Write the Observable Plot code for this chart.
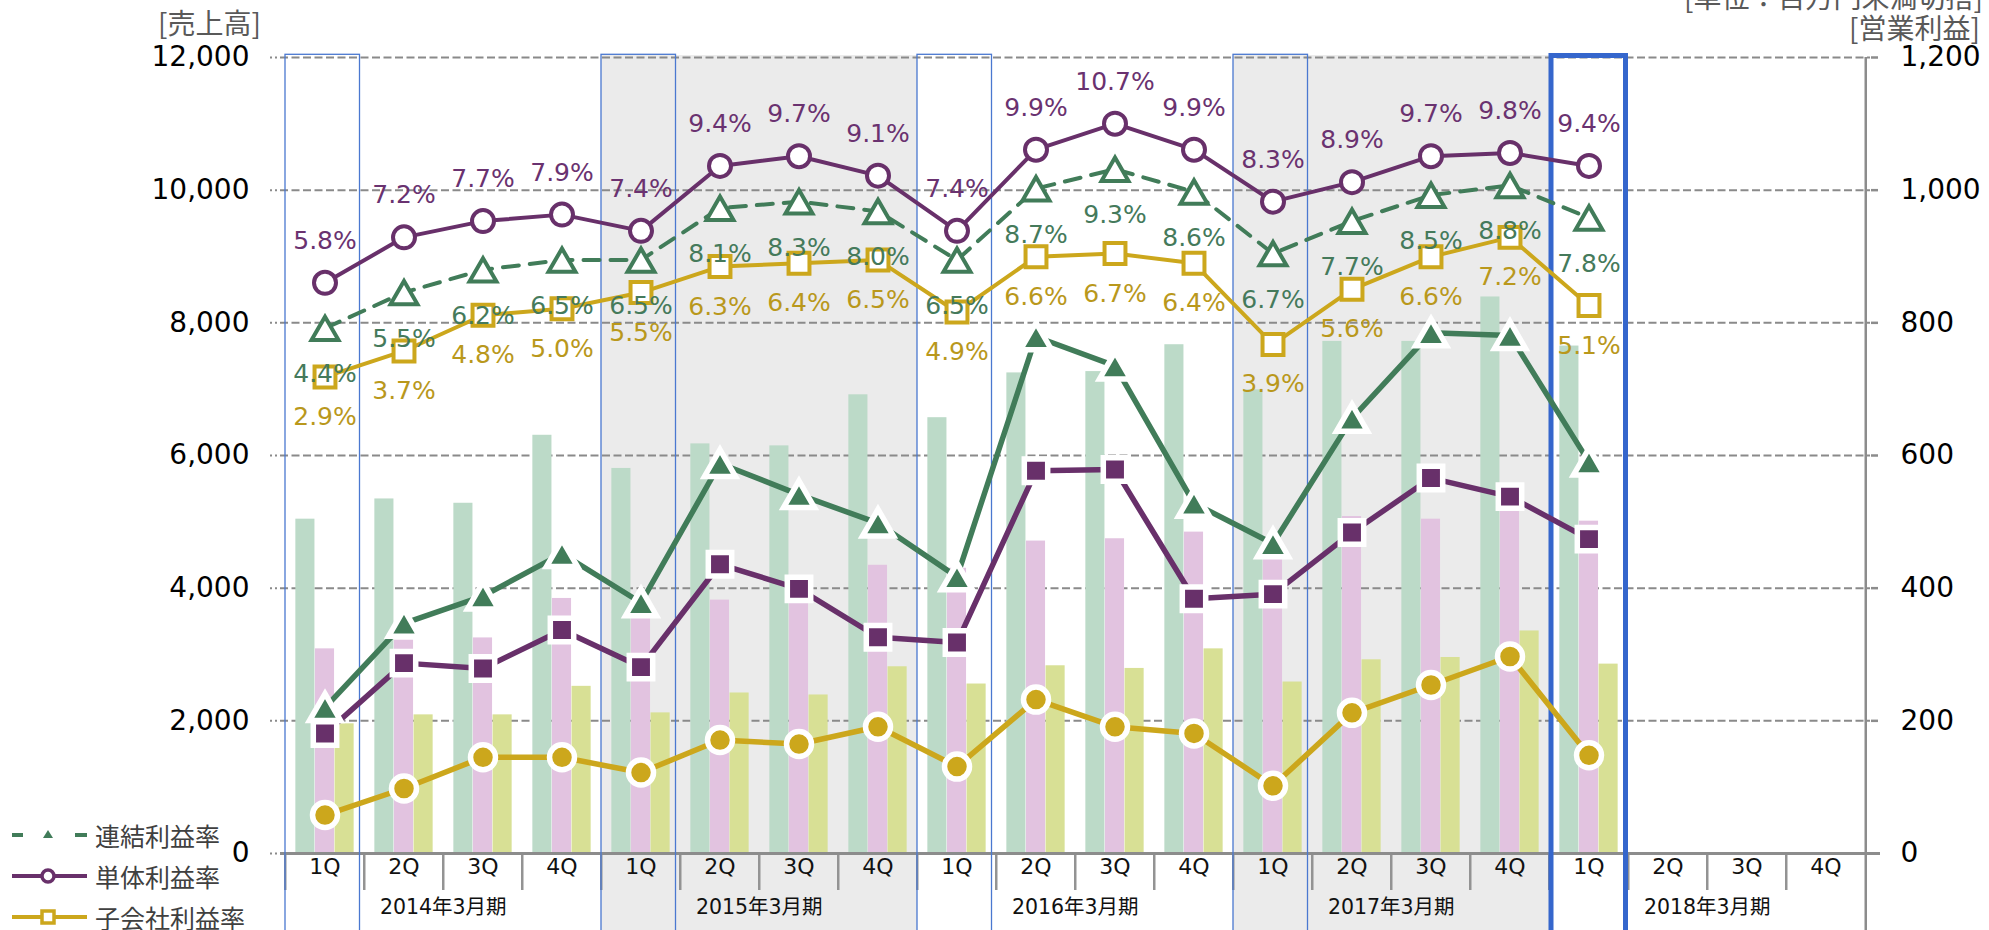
<!DOCTYPE html>
<html><head><meta charset="utf-8">
<script src="https://cdn.jsdelivr.net/npm/d3@7"></script>
<script src="https://cdn.jsdelivr.net/npm/@observablehq/plot@0.6"></script>
<style>
body{margin:0;background:#fff;}
#wrap{position:relative;width:1989px;height:930px;overflow:hidden;}
#chart{position:absolute;left:0;top:0;}
.lbl{position:absolute;white-space:nowrap;font-family:"Noto Sans CJK JP",sans-serif;color:#595959;font-size:28px;line-height:1;}
.leg{position:absolute;left:10px;height:30px;display:flex;align-items:center;}
.leg span{font-family:"Noto Sans CJK JP",sans-serif;font-size:25px;color:#404040;margin-left:5px;line-height:1;}
</style></head>
<body><div id="wrap"><div id="chart"></div>
<div class="lbl" style="left:158px;top:8px;">[売上高]</div>
<div class="lbl" style="right:6px;top:-18px;">[単位：百万円未満切捨]</div>
<div class="lbl" style="right:9px;top:13px;">[営業利益]</div>
<div class="leg" style="top:820px;"><svg width="80" height="30"><line x1="2" x2="13" y1="15" y2="15" stroke="#417c59" stroke-width="4"/><line x1="65" x2="77" y1="15" y2="15" stroke="#417c59" stroke-width="4"/><path d="M38,10 L43,18 L33,18 Z" fill="#417c59"/></svg><span>連結利益率</span></div>
<div class="leg" style="top:861px;"><svg width="80" height="30"><line x1="2" x2="77" y1="15" y2="15" stroke="#68306a" stroke-width="4"/><circle cx="38" cy="15" r="6" fill="#fff" stroke="#68306a" stroke-width="3.5"/></svg><span>単体利益率</span></div>
<div class="leg" style="top:902px;"><svg width="80" height="30"><line x1="2" x2="77" y1="15" y2="15" stroke="#cca71c" stroke-width="4"/><rect x="32" y="9" width="12" height="12" fill="#fff" stroke="#cca71c" stroke-width="3.5"/></svg><span>子会社利益率</span></div>
</div>
<script>
// ---- data ----
const fiscalYears = ["2014年3月期","2015年3月期","2016年3月期","2017年3月期","2018年3月期"];
const quarterNames = ["1Q","2Q","3Q","4Q"];
const shadedYears = ["2015年3月期","2017年3月期"];
// 売上高 (left axis)
const salesConsolidated = [5040,5345,5280,6305,5805,6175,6145,6915,6570,7245,7265,7670,6990,7720,7720,8390,7650];
const salesParent       = [3085,3215,3250,3845,3780,3820,3910,4345,4300,4710,4745,4845,4700,5080,5040,5330,5010];
const salesSubsidiary   = [1955,2090,2090,2520,2120,2420,2390,2815,2555,2830,2790,3085,2585,2920,2955,3355,2855];
// 営業利益 (right axis)
const profitConsolidated = [220,347,388,452,378,588,541,498,417,779,735,528,467,656,785,781,590];
const profitParent       = [181,287,279,337,281,436,399,326,318,577,579,384,391,484,566,538,474];
const profitSubsidiary   = [58,98,145,145,122,171,165,191,131,232,191,181,102,212,254,297,148];
// 利益率 (%)
const rateConsolidated = [4.4,5.5,6.2,6.5,6.5,8.1,8.3,8.0,6.5,8.7,9.3,8.6,6.7,7.7,8.5,8.8,7.8];
const rateParent       = [5.8,7.2,7.7,7.9,7.4,9.4,9.7,9.1,7.4,9.9,10.7,9.9,8.3,8.9,9.7,9.8,9.4];
const rateSubsidiary   = [2.9,3.7,4.8,5.0,5.5,6.3,6.4,6.5,4.9,6.6,6.7,6.4,3.9,5.6,6.6,7.2,5.1];
const leftTicks = [0,2000,4000,6000,8000,10000,12000];

// ---- scales helpers ----
const leftMax = 12000, rightMax = 1200;
const rateDomain = [-11.78, 12.74];          // hidden axis of the ratio lines
const rateToLeft = r => (r - rateDomain[0]) / (rateDomain[1] - rateDomain[0]) * leftMax;
const profitToLeft = p => p * leftMax / rightMax;

const keyOf = (fy, q) => fy + "|" + q;
const slots = fiscalYears.flatMap(fy => quarterNames.map(q => ({fy, q, key: keyOf(fy, q)})));
const domain = slots.map(d => d.key);
const rows = slots.slice(0, salesConsolidated.length).map((s, i) => ({
  ...s,
  sC: salesConsolidated[i], sP: salesParent[i], sS: salesSubsidiary[i],
  pC: profitConsolidated[i], pP: profitParent[i], pS: profitSubsidiary[i],
  rC: rateConsolidated[i], rP: rateParent[i], rS: rateSubsidiary[i]
}));

const C = {
  gBar: "#bcdac8", pBar: "#e2c3e0", yBar: "#d8e095",
  green: "#417c59", purple: "#68306a", gold: "#cca71c",
  gText: "#457a5b", pText: "#6a3270", yText: "#b9981c",
  grid: "#8a8a8a", axis: "#8c8c8c", shade: "#ebebeb", blue: "#4a78d0", blueThick: "#3566cc"
};
const FONT = "DejaVu Sans, Noto Sans CJK JP, sans-serif";
const bw = 79.5;              // band width in px (1590 / 20)
const pct = v => v.toFixed(1) + "%";

const chart = Plot.plot({
  width: 1989, height: 930,
  marginLeft: 280, marginRight: 119, marginTop: 57, marginBottom: 77,
  style: {fontFamily: FONT, background: "transparent", overflow: "visible"},
  x: {type: "band", domain, padding: 0, axis: null},
  y: {domain: [0, leftMax]},
  marks: [
    // fiscal-year shading
    Plot.cell(slots.filter(d => shadedYears.includes(d.fy)), {x: "key", fill: C.shade, insetTop: -2, insetBottom: -80}),
    // grid
    Plot.ruleY(leftTicks.slice(1), {stroke: C.grid, strokeWidth: 2, strokeDasharray: "8,3.5"}),
    Plot.ruleY(leftTicks, {stroke: C.grid, strokeWidth: 2, strokeDasharray: "2,3", insetLeft: -10, insetRight: 1590}),
    // bars
    Plot.barY(rows, {x: "key", y: "sC", fill: C.gBar, insetLeft: 10.35, insetRight: 49.55}),
    Plot.barY(rows, {x: "key", y: "sP", fill: C.pBar, insetLeft: 29.95, insetRight: 29.95}),
    Plot.barY(rows, {x: "key", y: "sS", fill: C.yBar, insetLeft: 49.55, insetRight: 10.35}),
    // quarter separators under the axis
    Plot.ruleX(domain, {x: d => d, dx: -bw / 2, stroke: "#939393", strokeWidth: 2.5, insetTop: 796, insetBottom: -37}),
    // right axis line
    Plot.ruleX([domain[domain.length - 1]], {x: d => d, dx: bw / 2, stroke: C.axis, strokeWidth: 2.5, insetBottom: -80}),
    // x axis base line
    Plot.ruleY([0], {stroke: C.axis, strokeWidth: 3, insetLeft: 0, insetRight: -10}),
    // 1Q boxes
    Plot.cell(slots.filter(d => d.q === "1Q" && d.fy !== "2018年3月期"), {x: "key", fill: "none", stroke: C.blue, strokeWidth: 1.3, insetTop: -2.7, insetBottom: -100, insetRight: 4.5}),
    Plot.cell(slots.filter(d => d.q === "1Q" && d.fy === "2018年3月期"), {x: "key", fill: "none", stroke: C.blueThick, strokeWidth: 5, insetTop: -1.5, insetBottom: -100, insetLeft: 2, insetRight: 2.5}),
    // profit lines (right axis)
    Plot.line(rows, {x: "key", y: d => profitToLeft(d.pC), stroke: C.green, strokeWidth: 5.5}),
    Plot.line(rows, {x: "key", y: d => profitToLeft(d.pP), stroke: C.purple, strokeWidth: 5.5}),
    Plot.line(rows, {x: "key", y: d => profitToLeft(d.pS), stroke: C.gold, strokeWidth: 5.5}),
    // ratio lines
    Plot.line(rows, {x: "key", y: d => rateToLeft(d.rC), stroke: C.green, strokeWidth: 4, strokeDasharray: "16,11"}),
    Plot.line(rows, {x: "key", y: d => rateToLeft(d.rP), stroke: C.purple, strokeWidth: 4}),
    Plot.line(rows, {x: "key", y: d => rateToLeft(d.rS), stroke: C.gold, strokeWidth: 4}),
    // profit markers
    Plot.dot(rows, {x: "key", y: d => profitToLeft(d.pC), symbol: "triangle", r: 11.5, dy: 4, fill: C.green, stroke: "#fff", strokeWidth: 5.5}),
    Plot.dot(rows, {x: "key", y: d => profitToLeft(d.pP), symbol: "square", r: 13.2, fill: C.purple, stroke: "#fff", strokeWidth: 5.5}),
    Plot.dot(rows, {x: "key", y: d => profitToLeft(d.pS), symbol: "circle", r: 12.5, fill: C.gold, stroke: "#fff", strokeWidth: 5.5}),
    // ratio markers
    Plot.dot(rows, {x: "key", y: d => rateToLeft(d.rC), symbol: "triangle", r: 10, dy: 4, fill: "#fff", stroke: C.green, strokeWidth: 4}),
    Plot.dot(rows, {x: "key", y: d => rateToLeft(d.rP), symbol: "circle", r: 11, fill: "#fff", stroke: C.purple, strokeWidth: 4}),
    Plot.dot(rows, {x: "key", y: d => rateToLeft(d.rS), symbol: "square", r: 11.8, fill: "#fff", stroke: C.gold, strokeWidth: 4}),
    // ratio labels
    Plot.text(rows, {x: "key", y: d => rateToLeft(d.rP), text: d => pct(d.rP), dy: -42, fill: C.pText, fontSize: 25, fontFamily: FONT}),
    Plot.text(rows, {x: "key", y: d => rateToLeft(d.rC), text: d => pct(d.rC), dy: 46, fill: C.gText, fontSize: 25, fontFamily: FONT}),
    Plot.text(rows, {x: "key", y: d => rateToLeft(d.rS), text: d => pct(d.rS), dy: 40, fill: C.yText, fontSize: 25, fontFamily: FONT}),
    // axes
    Plot.axisY({anchor: "left", ticks: leftTicks, tickFormat: d3.format(","), tickSize: 0, tickPadding: 31, fontSize: 28, fill: "#000", label: null, fontFamily: FONT}),
    Plot.axisY({anchor: "right", ticks: leftTicks, tickFormat: d => d3.format(",")(d * rightMax / leftMax), tickSize: 7, tickPadding: 23, fontSize: 28, fill: "#000", stroke: C.axis, strokeWidth: 2.5, label: null, fontFamily: FONT}),
    // quarter and fiscal year labels
    Plot.text(slots, {x: "key", text: "q", frameAnchor: "bottom", dy: 20, fontSize: 22, fill: "#111", fontFamily: FONT}),
    Plot.text(fiscalYears, {x: fy => keyOf(fy, "3Q"), text: fy => fy, dx: -bw / 2, frameAnchor: "bottom", dy: 60, fontSize: 20.5, fill: "#111", fontFamily: FONT})
  ]
});
document.getElementById("chart").appendChild(chart);
</script>
</body></html>
